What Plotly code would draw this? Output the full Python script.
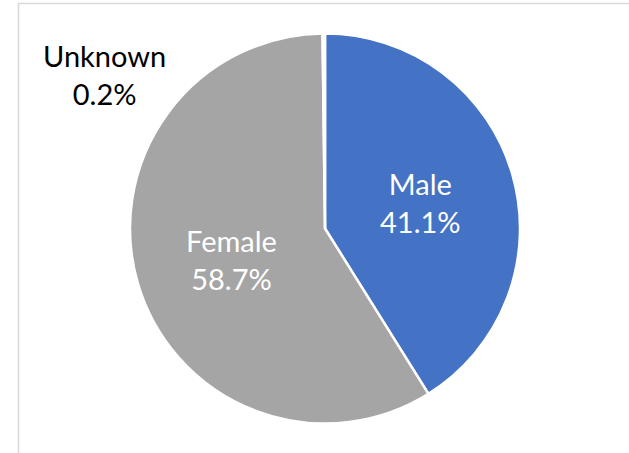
import plotly.graph_objects as go

labels = ["Male", "Female", "Unknown"]
values = [41.1, 58.7, 0.2]
colors = ["#4472C4", "#A5A5A5", "#FFFFFF"]
pct_text = ["41.1%", "58.7%", "0.2%"]

W, H = 629, 453
cx, cy, r = 325, 228.5, 195

fig = go.Figure(go.Pie(
    labels=labels, values=values, sort=False, direction="clockwise", rotation=0,
    marker=dict(colors=colors, line=dict(color="white", width=2.5)),
    textinfo="none", hoverinfo="label+percent", showlegend=False,
    domain=dict(x=[(cx - r) / W, (cx + r) / W], y=[1 - (cy + r) / H, 1 - (cy - r) / H]),
))

font = "Lato, Calibri, Carlito, sans-serif"
lab_pos = {"Male": (420, 202, "white"), "Female": (231, 259, "white"), "Unknown": (104.5, 75, "black")}
for lab, pt in zip(labels, pct_text):
    x, y, c = lab_pos[lab]
    fig.add_annotation(x=x / W, y=1 - y / H, xref="paper", yref="paper",
                       text=f"{lab}<br>{pt}", showarrow=False,
                       font=dict(family=font, size=29, color=c),
                       xanchor="center", yanchor="middle", align="center")

fig.add_shape(type="rect", xref="paper", yref="paper",
              x0=18.5 / W, x1=1.3, y0=-0.3, y1=1 - 3.5 / H,
              line=dict(color="#D9D9D9", width=1.5), fillcolor="rgba(0,0,0,0)")

fig.update_layout(width=W, height=H, margin=dict(l=0, r=0, t=0, b=0),
                  paper_bgcolor="white", plot_bgcolor="white")
fig.write_html("out.html", config={"displayModeBar": False},
               post_script="document.body.style.margin='0';document.body.style.overflow='hidden';")
